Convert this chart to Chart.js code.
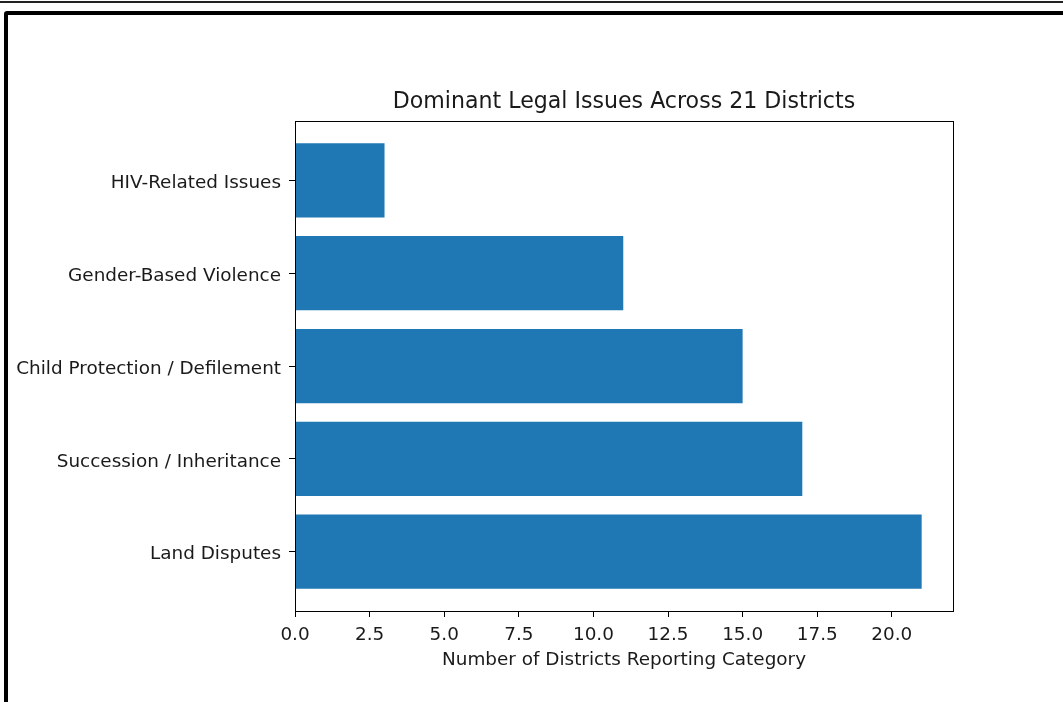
<!DOCTYPE html>
<html lang="en">
<head>
  <meta charset="UTF-8" />
  <title>Dominant Legal Issues Across 21 Districts</title>
  <script src="https://cdn.jsdelivr.net/npm/chart.js"></script>
  <style>
    html, body { margin: 0; padding: 0; background: #fff; overflow: hidden; }
    body { width: 1063px; height: 702px; position: relative; }
    #topLine { position: absolute; left: 0; top: 1px; width: 1063px; height: 2px; background: #222; }
    #frame {
      position: absolute; left: 4px; top: 11px; width: 1100px; height: 800px;
      border: 4px solid #000; border-radius: 3px;
    }
    #chartCanvas { position: absolute; left: 0; top: 0; }
  </style>
</head>
<body>
<div id="topLine"></div>
<div id="frame"></div>
<canvas id="chartCanvas" width="1063" height="702"></canvas>

<script>
  // bottom to top, like matplotlib barh
  const categories = [
    'Land Disputes',
    'Succession / Inheritance',
    'Child Protection / Defilement',
    'Gender-Based Violence',
    'HIV-Related Issues'
  ];
  const districtCounts = [21, 17, 15, 11, 3];
  const xTickValues = [0, 2.5, 5, 7.5, 10, 12.5, 15, 17.5, 20];

  const FONT = 'DejaVu Sans';
  const TEXT = '#1a1a1a';
  const SIZE = 18.4;

  // box around the plot area (matplotlib style spines)
  const frameBox = {
    id: 'frameBox',
    afterDatasetsDraw(chart) {
      const { ctx, chartArea: a } = chart;
      ctx.save();
      ctx.strokeStyle = '#000';
      ctx.lineWidth = 1;
      ctx.strokeRect(Math.round(a.left) + 0.5, Math.round(a.top) + 0.5,
                     Math.round(a.right - a.left), Math.round(a.bottom - a.top));
      ctx.restore();
    }
  };

  const ctx = document.getElementById('chartCanvas').getContext('2d');
  new Chart(ctx, {
    type: 'bar',
    data: {
      datasets: [{
        data: categories.map((c, i) => ({ x: districtCounts[i], y: i })),
        backgroundColor: '#1f77b4',
        borderWidth: 0,
        barPercentage: 0.8,
        categoryPercentage: 1.0
      }]
    },
    options: {
      indexAxis: 'y',
      responsive: false,
      animation: false,
      layout: { padding: { left: 0, right: 110, top: 0, bottom: 0 } },
      scales: {
        x: {
          type: 'linear',
          min: 0,
          max: 22.05,
          offset: false,
          afterBuildTicks: (scale) => { scale.ticks = xTickValues.map(v => ({ value: v })); },
          afterFit: (scale) => { scale.height = 91; },
          grid: { display: true, offset: false, drawOnChartArea: false, drawTicks: true, tickLength: 6, color: '#000' },
          border: { display: true, color: '#000' },
          ticks: {
            color: TEXT,
            padding: 7,
            maxRotation: 0,
            font: { family: FONT, size: SIZE },
            callback: (v) => Number(v).toFixed(1)
          },
          title: {
            display: true,
            text: 'Number of Districts Reporting Category',
            color: TEXT,
            font: { family: FONT, size: SIZE },
            padding: { top: 0, bottom: 31 }
          }
        },
        y: {
          type: 'linear',
          min: -0.64,
          max: 4.64,
          offset: false,
          afterBuildTicks: (scale) => { scale.ticks = categories.map((c, i) => ({ value: i })); },
          afterFit: (scale) => { scale.width = 295; },
          grid: { display: true, offset: false, drawOnChartArea: false, drawTicks: true, tickLength: 6, color: '#000' },
          border: { display: true, color: '#000' },
          ticks: {
            color: TEXT,
            padding: 8,
            labelOffset: 3,
            font: { family: FONT, size: SIZE },
            callback: (v) => categories[v]
          }
        }
      },
      plugins: {
        legend: { display: false },
        tooltip: { enabled: false },
        title: {
          display: true,
          fullSize: false,
          text: 'Dominant Legal Issues Across 21 Districts',
          color: TEXT,
          font: { family: FONT, size: 22.1, weight: 'normal' },
          padding: { top: 89, bottom: 5.5 }
        }
      }
    },
    plugins: [frameBox]
  });
</script>
</body>
</html>
